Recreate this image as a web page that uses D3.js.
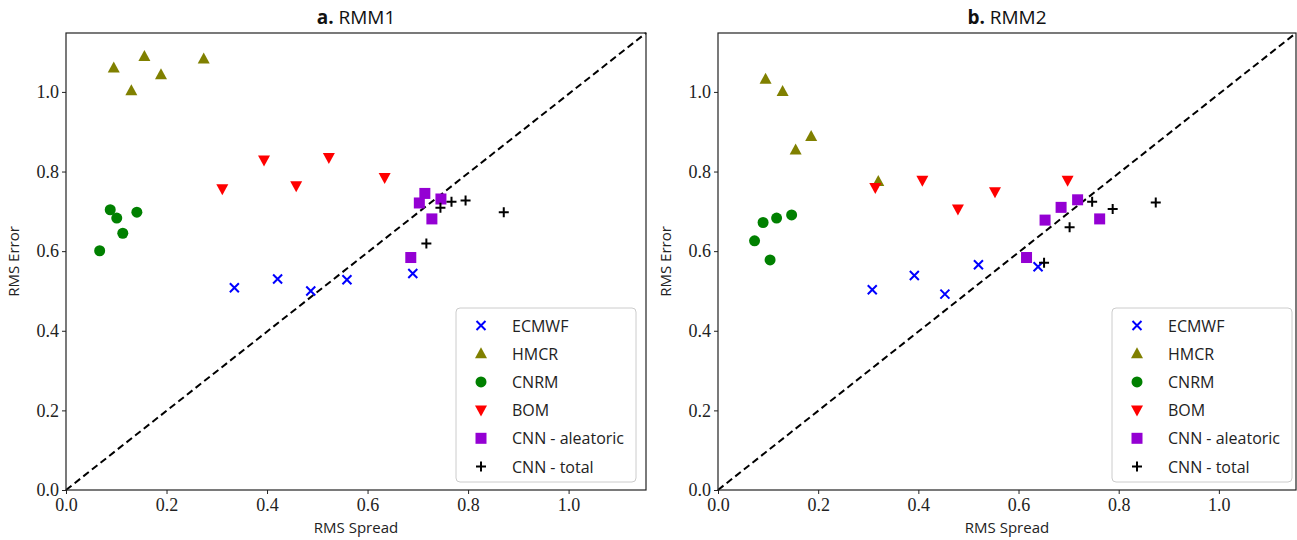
<!DOCTYPE html>
<html>
<head>
<meta charset="utf-8">
<script src="https://cdn.jsdelivr.net/npm/d3@7"></script>
<style>
  body { margin: 0; background: #fff; }
  .lbl { font-family: "Open Sans", "DejaVu Sans", sans-serif; font-size: 15px; fill: #222; }
  .ttl { font-family: "Open Sans", "DejaVu Sans", sans-serif; font-size: 19px; fill: #111; }
  .leg { font-family: "Open Sans", "DejaVu Sans", sans-serif; font-size: 16px; fill: #222; }
</style>
</head>
<body>
<div id="chart"></div>
<script>
// series names and styles
const models = ['ECMWF', 'HMCR', 'CNRM', 'BOM', 'CNN - aleatoric', 'CNN - total']
const colors = ['#0000ff', '#808000', '#008000', '#ff0000', '#9400d3', '#000000']
const shapes = ['x', 'tri', 'circle', 'tridown', 'square', 'plus']

const ticks = [0.0, 0.2, 0.4, 0.6, 0.8, 1.0]

// RMM1 panel: [spread, error]
const rmm1_ecmwf = [[0.335, 0.508], [0.421, 0.530], [0.487, 0.500], [0.559, 0.528], [0.690, 0.544]]
const rmm1_hmcr = [[0.095, 1.060], [0.156, 1.089], [0.189, 1.043], [0.130, 1.003], [0.274, 1.083]]
const rmm1_cnrm = [[0.088, 0.704], [0.101, 0.683], [0.113, 0.645], [0.067, 0.601], [0.141, 0.698]]
const rmm1_bom = [[0.311, 0.757], [0.394, 0.829], [0.458, 0.764], [0.523, 0.835], [0.634, 0.785]]
const rmm1_alea = [[0.714, 0.745], [0.703, 0.721], [0.746, 0.731], [0.728, 0.681], [0.686, 0.584]]
const rmm1_total = [[0.717, 0.619], [0.745, 0.709], [0.767, 0.724], [0.795, 0.727], [0.871, 0.698]]

// RMM2 panel
const rmm2_ecmwf = [[0.308, 0.503], [0.392, 0.539], [0.453, 0.492], [0.520, 0.566], [0.639, 0.561]]
const rmm2_hmcr = [[0.095, 1.032], [0.129, 1.001], [0.155, 0.854], [0.186, 0.888], [0.320, 0.775]]
const rmm2_cnrm = [[0.073, 0.626], [0.090, 0.672], [0.117, 0.683], [0.147, 0.691], [0.104, 0.578]]
const rmm2_bom = [[0.314, 0.760], [0.408, 0.778], [0.479, 0.706], [0.553, 0.749], [0.698, 0.778]]
const rmm2_alea = [[0.653, 0.678], [0.685, 0.710], [0.718, 0.729], [0.762, 0.681], [0.616, 0.584]]
const rmm2_total = [[0.702, 0.660], [0.747, 0.724], [0.788, 0.706], [0.874, 0.722], [0.651, 0.571]]

const W = 1297, H = 540
const svg = d3.select('#chart').append('svg').attr('width', W).attr('height', H)

function marker (g, shape, color, x, y) {
  const s = 5.5
  if (shape === 'x') {
    g.append('path').attr('d', `M${x - 4.5},${y - 4.5}L${x + 4.5},${y + 4.5}M${x - 4.5},${y + 4.5}L${x + 4.5},${y - 4.5}`)
      .attr('stroke', color).attr('stroke-width', 2).attr('fill', 'none')
  } else if (shape === 'plus') {
    g.append('path').attr('d', `M${x - 5},${y}L${x + 5},${y}M${x},${y - 5}L${x},${y + 5}`)
      .attr('stroke', color).attr('stroke-width', 2).attr('fill', 'none')
  } else if (shape === 'circle') {
    g.append('circle').attr('cx', x).attr('cy', y).attr('r', s).attr('fill', color)
  } else if (shape === 'square') {
    g.append('rect').attr('x', x - s).attr('y', y - s).attr('width', 2 * s).attr('height', 2 * s).attr('fill', color)
  } else if (shape === 'tri') {
    g.append('path').attr('d', `M${x},${y - 6.5}L${x + 6},${y + 4.5}L${x - 6},${y + 4.5}Z`).attr('fill', color)
  } else if (shape === 'tridown') {
    g.append('path').attr('d', `M${x},${y + 6.5}L${x + 6},${y - 4.5}L${x - 6},${y - 4.5}Z`).attr('fill', color)
  }
}

function panel (left, right, bold, name, series, legX) {
  const top = 33, bottom = 490
  const x = d3.scaleLinear().domain([0, 1.154]).range([left, right])
  const y = d3.scaleLinear().domain([0, 1.148]).range([bottom, top])
  const g = svg.append('g')

  const ax = g.append('g').attr('transform', `translate(0,${bottom})`)
    .call(d3.axisBottom(x).tickValues(ticks).tickFormat(d3.format('.1f')).tickSize(4).tickPadding(4))
  const ay = g.append('g').attr('transform', `translate(${left},0)`)
    .call(d3.axisLeft(y).tickValues(ticks).tickFormat(d3.format('.1f')).tickSize(4).tickPadding(3))
  ;[ax, ay].forEach(a => {
    a.attr('font-family', '"Liberation Serif", "DejaVu Serif", serif').attr('font-size', 18)
    a.selectAll('text').attr('fill', '#222')
    a.select('.domain').remove()
    a.selectAll('.tick line').attr('stroke', '#222')
  })

  // diagonal 1:1 line
  g.append('line')
    .attr('x1', x(0)).attr('y1', y(0)).attr('x2', x(1.154)).attr('y2', y(1.148))
    .attr('stroke', '#000').attr('stroke-width', 2).attr('stroke-dasharray', '7,4')

  series.forEach((pts, i) => {
    pts.forEach(p => marker(g, shapes[i], colors[i], x(p[0]), y(p[1])))
  })

  g.append('rect').attr('x', left).attr('y', top).attr('width', right - left).attr('height', bottom - top)
    .attr('fill', 'none').attr('stroke', '#222').attr('stroke-width', 1.2)

  // title
  const t = g.append('text').attr('class', 'ttl').attr('x', (left + right) / 2).attr('y', 24).attr('text-anchor', 'middle')
  t.append('tspan').attr('font-weight', 'bold').text(bold + ' ')
  t.append('tspan').text(name)

  g.append('text').attr('class', 'lbl').attr('x', (left + right) / 2).attr('y', 533).attr('text-anchor', 'middle').text('RMS Spread')
  g.append('text').attr('class', 'lbl').attr('transform', `translate(${left - 47},${(top + bottom) / 2}) rotate(-90)`)
    .attr('text-anchor', 'middle').text('RMS Error')

  // legend
  const lg = g.append('g')
  lg.append('rect').attr('x', legX).attr('y', 308).attr('width', 180).attr('height', 174).attr('rx', 4)
    .attr('fill', '#fff').attr('fill-opacity', 0.85).attr('stroke', '#ccc')
  models.forEach((m, i) => {
    const yy = 325.5 + i * 28.2
    marker(lg, shapes[i], colors[i], legX + 25, yy)
    lg.append('text').attr('class', 'leg').attr('x', legX + 56).attr('y', yy + 6).text(m)
  })
}

panel(66, 646, 'a.', 'RMM1', [rmm1_ecmwf, rmm1_hmcr, rmm1_cnrm, rmm1_bom, rmm1_alea, rmm1_total], 456)
panel(718, 1296, 'b.', 'RMM2', [rmm2_ecmwf, rmm2_hmcr, rmm2_cnrm, rmm2_bom, rmm2_alea, rmm2_total], 1112)
</script>
</body>
</html>
